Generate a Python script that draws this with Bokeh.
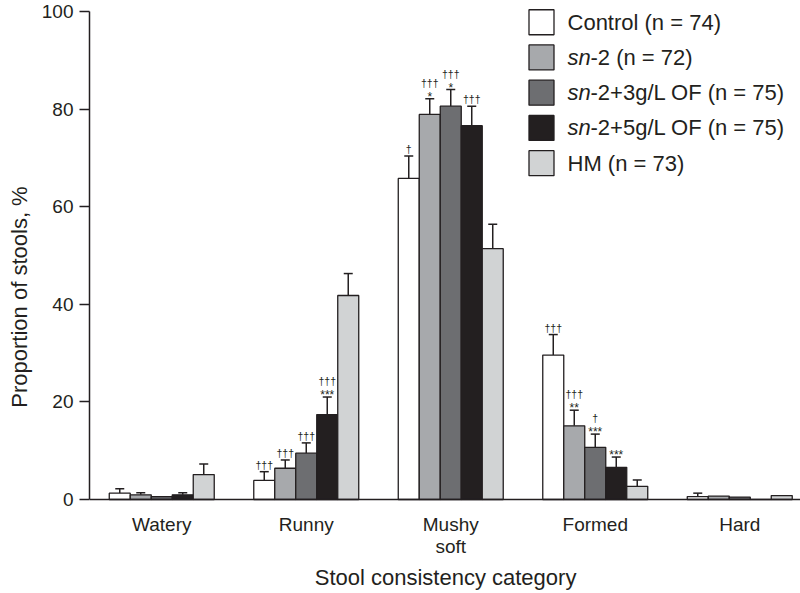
import numpy as np
from bokeh.plotting import figure
from bokeh.models import (Range1d, FixedTicker, Whisker, TeeHead, ColumnDataSource, Span)
from bokeh.core.properties import value
from bokeh.embed import file_html
from bokeh.resources import INLINE

# ---------------- data ----------------
categories = ["Watery", "Runny", "Mushy\nsoft", "Formed", "Hard"]
series_names = ["Control", "sn-2", "sn-2+3g/L OF", "sn-2+5g/L OF", "HM"]
series_n = [74, 72, 75, 75, 73]

control = [1.3, 3.9, 65.8, 29.6, 0.6]
control_err = [2.2, 5.7, 70.4, 33.8, 1.3]
sn2 = [0.95, 6.4, 78.9, 15.1, 0.7]
sn2_err = [1.4, 8.1, 82.1, 18.3, 0.7]
of3 = [0.6, 9.5, 80.6, 10.7, 0.5]
of3_err = [0.6, 11.6, 84.0, 13.4, 0.5]
of5 = [0.95, 17.4, 76.6, 6.6, 0.0]
of5_err = [1.4, 21.0, 80.6, 8.7, 0.0]
hm = [5.1, 41.8, 51.4, 2.7, 0.8]
hm_err = [7.3, 46.3, 56.4, 4.0, 0.8]

# significance marks: (category index, series index, dagger text, star text)
ann_cat = [1, 1, 1, 1, 2, 2, 2, 2, 3, 3, 3, 3]
ann_series = [0, 1, 2, 3, 0, 1, 2, 3, 0, 1, 2, 3]
ann_dagger = ["†††", "†††", "†††", "†††", "†", "†††", "†††", "†††", "†††", "†††", "†", ""]
ann_star = ["", "", "", "***", "", "*", "*", "", "", "**", "***", "***"]

y_ticks = [0, 20, 40, 60, 80, 100]
x_title = "Stool consistency category"
y_title = "Proportion of stools, %"

# ---------------- styling ----------------
fills = ["#ffffff", "#a7a9ac", "#6d6e71", "#231f20", "#d1d3d4"]
ink = "#231f20"
font = "Liberation Sans"
bar_w = 0.1453
px_per_y = 4.88

W, H = 800, 593
left_border = 89
frame_top_px = 11        # pixel row of y = 100
axis_px = 499            # pixel row of y = 0
y_end = 100 + frame_top_px / px_per_y
y_start = -(H - axis_px) / px_per_y
x_end = -0.5 + (W - left_border) / 144.5

values = [control, sn2, of3, of5, hm]
errs = [control_err, sn2_err, of3_err, of5_err, hm_err]

p = figure(width=W, height=H, output_backend="svg", toolbar_location=None,
           x_range=Range1d(-0.5, x_end), y_range=Range1d(y_start, y_end),
           x_axis_location=None,
           min_border_left=left_border, min_border_right=0, min_border_top=0,
           min_border_bottom=0)
p.outline_line_color = None
p.xgrid.visible = False
p.ygrid.visible = False
p.background_fill_color = "white"
p.border_fill_color = "white"

cat_idx = np.arange(len(categories))
for i in range(5):
    xs = cat_idx + (i - 2) * bar_w
    p.vbar(x=xs, top=values[i], width=bar_w, bottom=0,
           fill_color=fills[i], line_color=ink, line_width=1.3)

# x axis line at y = 0
p.add_layout(Span(location=0, dimension="width", line_color=ink, line_width=1.5))

# error bars
for i in range(5):
    xs = cat_idx + (i - 2) * bar_w
    keep = [k for k in range(len(categories)) if errs[i][k] > values[i][k] + 1e-9]
    src = ColumnDataSource(dict(base=[xs[k] for k in keep],
                                lower=[values[i][k] for k in keep],
                                upper=[errs[i][k] for k in keep]))
    w = Whisker(source=src, base="base", lower="lower", upper="upper",
                dimension="height", line_color=ink, line_width=1.5,
                upper_head=TeeHead(size=9, line_color=ink, line_width=1.5),
                lower_head=None)
    p.add_layout(w)

# significance annotations
ax = [ann_cat[k] + (ann_series[k] - 2) * bar_w for k in range(len(ann_cat))]
ay = [errs[ann_series[k]][ann_cat[k]] for k in range(len(ann_cat))]
dag_off = [-16 if ann_star[k] else -7 for k in range(len(ann_cat))]
p.text(x=ax, y=ay, text=ann_dagger, y_offset=dag_off, text_align="center",
       text_baseline="alphabetic", text_font=value(font), text_font_size="10.5px",
       text_color=ink)
p.text(x=ax, y=ay, text=ann_star, y_offset=-2, text_align="center",
       text_baseline="alphabetic", text_font=value(font), text_font_size="12px",
       text_color=ink)

# category labels under the axis (multi-line split)
lab_x, lab_t, lab_off = [], [], []
for k, c in zip(cat_idx, categories):
    for j, line in enumerate(c.split("\n")):
        lab_x.append(float(k))
        lab_t.append(line)
        lab_off.append(25 + 22 * j)
p.text(x=lab_x, y=[0] * len(lab_x), text=lab_t, y_offset=lab_off,
       text_align="center", text_baseline="middle", text_font=value(font),
       text_font_size="19px", text_color=ink)

# x-axis title
p.text(x=[1.964], y=[0], text=[x_title], y_offset=78, text_align="center",
       text_baseline="middle", text_font=value(font), text_font_size="22px",
       text_color=ink)

# legend (drawn manually to allow italic "sn")
leg_top = 97.8
leg_step = 7.22
leg_y = [leg_top - i * leg_step for i in range(5)]
p.scatter(x=[2.628] * 5, y=leg_y, marker="square", size=25,
          fill_color=fills, line_color=ink, line_width=1.3)
plain_txt = []
ital_txt = []
offs = []
for name, n in zip(series_names, series_n):
    if name.startswith("sn"):
        ital_txt.append("sn")
        plain_txt.append(name[2:] + f" (n = {n})")
        offs.append(23)
    else:
        ital_txt.append("")
        plain_txt.append(name + f" (n = {n})")
        offs.append(0)
p.text(x=[2.808] * 5, y=leg_y, text=ital_txt, text_baseline="middle",
       text_font=value(font), text_font_style="italic", text_font_size="22px",
       text_color=ink)
p.text(x=[2.808] * 5, y=leg_y, text=plain_txt, x_offset=offs, text_baseline="middle",
       text_font=value(font), text_font_size="22px", text_color=ink)

# y axis
ya = p.yaxis[0]
ya.ticker = FixedTicker(ticks=y_ticks)
ya.bounds = (0, 100)
ya.major_tick_out = 10
ya.major_tick_in = 0
ya.minor_tick_out = 0
ya.minor_tick_in = 0
ya.axis_line_color = ink
ya.axis_line_width = 1.5
ya.major_tick_line_color = ink
ya.major_tick_line_width = 1.5
ya.major_label_text_font = font
ya.major_label_text_font_size = "19px"
ya.major_label_text_color = ink
ya.major_label_standoff = 6
ya.axis_label = y_title
ya.axis_label_text_font = font
ya.axis_label_text_font_size = "22px"
ya.axis_label_text_font_style = "normal"
ya.axis_label_text_color = ink
ya.axis_label_standoff = 7

open("out.html", "w").write(file_html(p, INLINE))
